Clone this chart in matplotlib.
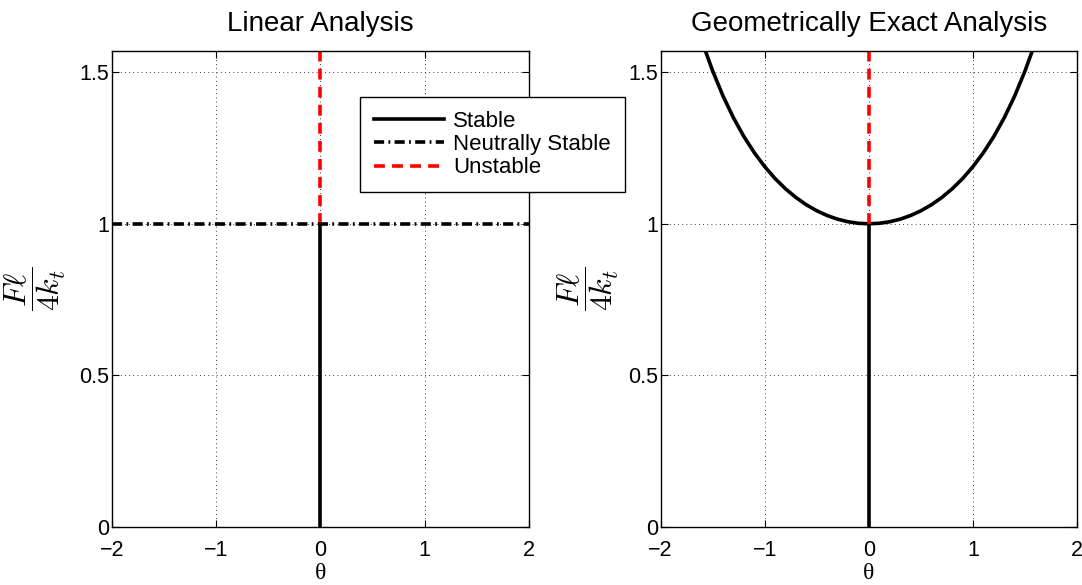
import numpy as np
import matplotlib
matplotlib.use("Agg")
import matplotlib.pyplot as plt
from matplotlib.lines import Line2D

# values
theta_pos = [0.0, 0.1, 0.2, 0.3, 0.4, 0.5, 0.6, 0.7, 0.8, 0.9, 1.0,
             1.1, 1.2, 1.3, 1.4, 1.5, 1.5708]
load_pos = [1.0, 1.0017, 1.0067, 1.0152, 1.0272, 1.0429, 1.0626, 1.0866,
            1.1152, 1.1489, 1.1884, 1.2343, 1.2875, 1.3492, 1.4207,
            1.5037, 1.5708]
y_top = 1.5708
x_lim = [-2, 2]
x_ticks = [-2, -1, 0, 1, 2]
x_tick_labels = ["\u22122", "\u22121", "0", "1", "2"]
y_ticks = [0, 0.5, 1, 1.5]
y_tick_labels = ["0", "0.5", "1", "1.5"]
titles = ["Linear Analysis", "Geometrically Exact Analysis"]

# mirror the curve for negative theta
theta_curve = [-t for t in theta_pos[::-1]] + theta_pos[1:]
load_curve = load_pos[::-1] + load_pos[1:]

plt.rcParams["font.family"] = ["Liberation Sans", "DejaVu Sans"]
plt.rcParams["mathtext.fontset"] = "cm"

LW = 2.6
RED_DASH = (0, (3.0, 2.0))
DASH_DOT = (0, (2.8, 1.2, 0.5, 1.2))

fig = plt.figure(figsize=(10.82, 5.85), dpi=100)
ax1 = fig.add_axes([0.1035, 0.0991, 0.3854, 0.8142])
ax2 = fig.add_axes([0.6106, 0.0991, 0.3848, 0.8142])

# left: linear analysis
ax1.plot([0, 0], [0, 1], color="k", lw=LW)
ax1.plot([0, 0], [1, y_top], color="r", lw=LW, linestyle=RED_DASH)
ax1.plot(x_lim, [1, 1], color="k", lw=LW, linestyle=DASH_DOT)

# right: geometrically exact
ax2.plot([0, 0], [0, 1], color="k", lw=LW)
ax2.plot(theta_curve, load_curve, color="k", lw=LW)
ax2.plot([0, 0], [1, y_top], color="r", lw=LW, linestyle=RED_DASH)

for ax, title, lx in zip([ax1, ax2], titles, [-0.183, -0.175]):
    ax.set_xlim(x_lim)
    ax.set_ylim(0, y_top)
    ax.set_xticks(x_ticks)
    ax.set_xticklabels(x_tick_labels)
    ax.set_yticks(y_ticks)
    ax.set_yticklabels(y_tick_labels)
    ax.tick_params(direction="in", length=5, width=0.8, top=True, right=True,
                   labelsize=15.5)
    ax.tick_params(axis="x", pad=9)
    ax.tick_params(axis="y", pad=2)
    ax.grid(True, color="k", linestyle=(0, (1, 4)), linewidth=0.6)
    for s in ax.spines.values():
        s.set_linewidth(1.0)
    ax.set_title(title, fontsize=20, pad=14)
    ax.set_xlabel("\u03b8", fontsize=17, family=["Liberation Serif", "DejaVu Serif"],
                  labelpad=2)
    ax.set_ylabel(r"$\dfrac{F\ell}{4k_t}$", fontsize=23, va="center")
    ax.yaxis.set_label_coords(lx, 0.5)

handles = [
    Line2D([0], [0], color="k", lw=LW, label="Stable"),
    Line2D([0], [0], color="k", lw=LW, linestyle=DASH_DOT, label="Neutrally Stable"),
    Line2D([0], [0], color="r", lw=LW, linestyle=RED_DASH, label="Unstable"),
]
leg = fig.legend(handles=handles, loc="upper left",
                 bbox_to_anchor=(360 / 1082, 1 - 97 / 585),
                 fontsize=16, frameon=True, fancybox=False, framealpha=1,
                 edgecolor="k", handlelength=3.15, handletextpad=0.4,
                 labelspacing=0.1, borderpad=0.63, borderaxespad=0)
leg.get_frame().set_linewidth(1.0)

fig.savefig("out.png", dpi=100)
